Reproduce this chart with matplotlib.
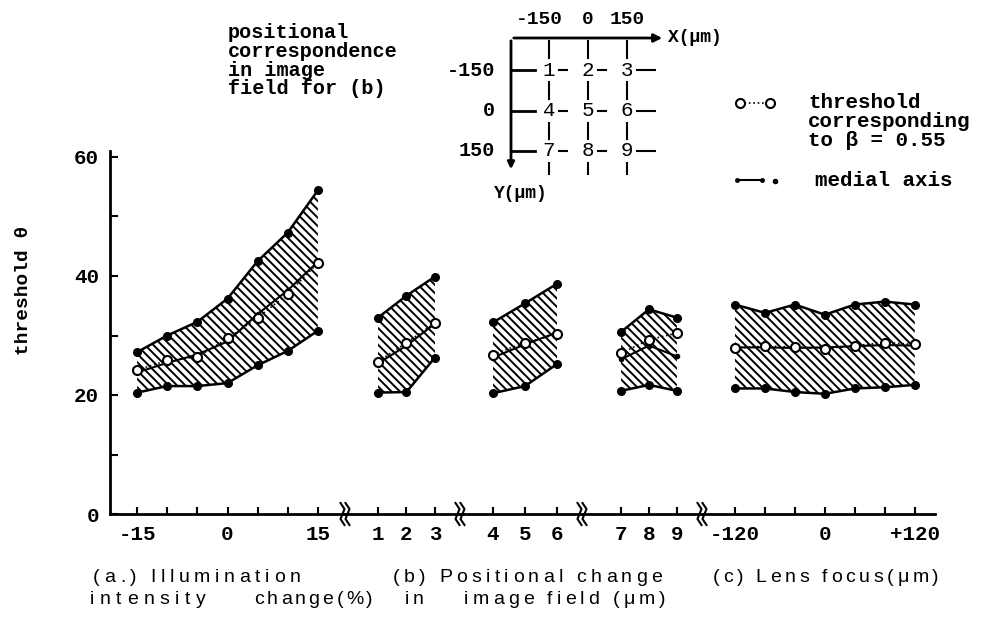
import matplotlib
matplotlib.use("Agg")
import matplotlib.pyplot as plt

plt.rcParams['font.family'] = ['Liberation Mono', 'DejaVu Sans']
plt.rcParams['hatch.linewidth'] = 1.4

# (a) illumination intensity change (%)
illum_x = [-15, -10, -5, 0, 5, 10, 15]
illum_upper = [27.2, 30.0, 32.3, 36.2, 42.5, 47.3, 54.4]
illum_lower = [20.4, 21.5, 21.5, 22.0, 25.0, 27.4, 30.8]
illum_thresh = [24.2, 25.8, 26.4, 29.5, 33.0, 37.0, 42.2]
illum_medial = [23.8, 25.4, 26.8, 29.0, 33.6, 37.6, 42.4]

# (b) positional change in image field, positions 1..9
pos1_x = [1, 2, 3]
pos1_upper = [33.0, 36.7, 39.9]
pos1_lower = [20.4, 20.5, 26.3]
pos1_thresh = [25.6, 28.8, 32.1]
pos1_medial = [25.3, 28.3, 32.0]

pos2_x = [4, 5, 6]
pos2_upper = [32.2, 35.4, 38.7]
pos2_lower = [20.3, 21.5, 25.2]
pos2_thresh = [26.8, 28.8, 30.2]
pos2_medial = [26.3, 28.5, 30.5]

pos3_x = [7, 8, 9]
pos3_upper = [30.6, 34.4, 33.0]
pos3_lower = [20.7, 21.7, 20.7]
pos3_thresh = [27.0, 29.3, 30.4]
pos3_medial = [26.0, 28.3, 26.5]

# (c) lens focus (um)
focus_x = [-120, -80, -40, 0, 40, 80, 120]
focus_upper = [35.2, 33.8, 35.2, 33.5, 35.2, 35.7, 35.2]
focus_lower = [21.1, 21.1, 20.5, 20.2, 21.1, 21.3, 21.7]
focus_thresh = [27.9, 28.2, 28.1, 27.8, 28.3, 28.8, 28.5]
focus_medial = [28.0, 28.0, 27.9, 28.0, 28.2, 28.4, 28.3]

W, H = 986, 630
Y0_PX = 514
PX_PER_UNIT = 5.95
YMAX = 61

fig = plt.figure(figsize=(W / 100, H / 100), dpi=100)


def px_axes(x0, x1):
    bottom = (H - Y0_PX) / H
    height = YMAX * PX_PER_UNIT / H
    return fig.add_axes([x0 / W, bottom, (x1 - x0) / W, height])


panels = [
    (110, 345, (-19.5, 19.5), illum_x, illum_upper, illum_lower, illum_thresh, illum_medial,
     [-15, -10, -5, 0, 5, 10, 15], ['-15', '', '', '0', '', '', '15']),
    (345, 460, (-0.16, 3.88), pos1_x, pos1_upper, pos1_lower, pos1_thresh, pos1_medial,
     [1, 2, 3], ['1', '2', '3']),
    (460, 582, (2.97, 6.78), pos2_x, pos2_upper, pos2_lower, pos2_thresh, pos2_medial,
     [4, 5, 6], ['4', '5', '6']),
    (582, 702, (5.6, 9.9), pos3_x, pos3_upper, pos3_lower, pos3_thresh, pos3_medial,
     [7, 8, 9], ['7', '8', '9']),
    (702, 935, (-164, 147), focus_x, focus_upper, focus_lower, focus_thresh, focus_medial,
     [-120, -80, -40, 0, 40, 80, 120], ['-120', '', '', '0', '', '', '+120']),
]

for i, (x0, x1, xlim, xs, up, lo, th, md, ticks, labels) in enumerate(panels):
    ax = px_axes(x0, x1)
    ax.set_xlim(xlim)
    ax.set_ylim(0, YMAX)
    ax.patch.set_alpha(0)
    ax.spines['top'].set_visible(False)
    ax.spines['right'].set_visible(False)
    ax.spines['bottom'].set_linewidth(2)
    if i == 0:
        ax.spines['left'].set_linewidth(2)
        ax.set_yticks([0, 20, 40, 60])
        ax.set_yticks([10, 30, 50], minor=True)
        ax.tick_params(axis='y', which='both', direction='in', length=6, width=1.5,
                       labelsize=15, pad=8)
        for t in ax.get_yticklabels():
            t.set_fontweight('bold')
    else:
        ax.spines['left'].set_visible(False)
        ax.set_yticks([])

    ax.fill_between(xs, lo, up, facecolor='none', edgecolor='black',
                    hatch='\\\\\\\\', linewidth=0)
    ax.plot(xs, up, color='black', lw=1.8, marker='o', ms=5.5)
    ax.plot(xs, lo, color='black', lw=1.8, marker='o', ms=5.5)
    ax.plot(xs, md, color='black', lw=1.5, marker='o', ms=3)
    ax.plot(xs, th, color='black', lw=1.2, ls=':', marker='o', ms=6.5,
            mfc='white', mec='black', mew=1.5)

    ax.set_xticks(ticks, labels, fontweight='bold')
    ax.tick_params(axis='x', direction='in', length=5, width=1.5, labelsize=15, pad=8)

# overlay in pixel coordinates for annotations
ov = fig.add_axes([0, 0, 1, 1])
ov.set_xlim(0, W)
ov.set_ylim(H, 0)
ov.axis('off')
ov.patch.set_alpha(0)

# break marks on the x axis
for bx in [345, 460, 582, 702]:
    for dx in (-2.5, 2.5):
        ov.plot([bx + dx - 2, bx + dx + 2, bx + dx - 2, bx + dx + 2],
                [503, 509, 519, 525], color='black', lw=1.5)

# y label
ov.text(24, 290, 'threshold θ', rotation=90, ha='center', va='center',
        fontsize=14, fontweight='bold')

# positional correspondence note
for k, line in enumerate(['positional', 'correspondence', 'in image', 'field for (b)']):
    ov.text(228, 33 + 18.5 * k, line, ha='left', va='center', fontsize=14.5,
            fontweight='bold')

# inset: 3x3 position grid
gx0, gy0 = 511, 38
cols = [549, 588, 627]
rows = [70, 111, 151]
ov.annotate('', xy=(665, gy0), xytext=(gx0, gy0),
            arrowprops=dict(arrowstyle='-|>', color='black', lw=2, mutation_scale=12))
ov.annotate('', xy=(gx0, 172), xytext=(gx0, gy0),
            arrowprops=dict(arrowstyle='-|>', color='black', lw=2, mutation_scale=10))
ov.text(668, gy0, 'X(μm)', ha='left', va='center', fontsize=13, fontweight='bold')
ov.text(521, 194, 'Y(μm)', ha='center', va='center', fontsize=13, fontweight='bold')
for cx, lab in zip(cols, ['-150', '0', '150']):
    ov.text(cx - (10 if lab.startswith('-') else 0), 19, lab, ha='center', va='center',
            fontsize=14, fontweight='bold')
for ry, lab in zip(rows, ['-150', '0', '150']):
    ov.text(495, ry, lab, ha='right', va='center', fontsize=14.5, fontweight='bold')
    ov.plot([gx0, gx0 + 24], [ry, ry], color='black', lw=2)
    ov.plot([cols[0] + 10, cols[0] + 18], [ry, ry], color='black', lw=1.5)
    ov.plot([cols[1] + 10, cols[1] + 18], [ry, ry], color='black', lw=1.5)
    ov.plot([cols[2] + 10, cols[2] + 28], [ry, ry], color='black', lw=1.5)
numbers = ['1', '2', '3', '4', '5', '6', '7', '8', '9']
for n, lab in enumerate(numbers):
    ov.text(cols[n % 3], rows[n // 3], lab, ha='center', va='center', fontsize=15)
for cx in cols:
    for ya, yb in [(41, 58), (82, 99), (123, 139), (163, 174)]:
        ov.plot([cx, cx], [ya, yb], color='black', lw=1.5)

# legend
ov.plot([740, 770], [103, 103], color='black', lw=1.2, ls=':', marker='o', ms=6.5,
        mfc='white', mec='black', mew=1.5)
for k, line in enumerate(['threshold', 'corresponding', 'to β = 0.55']):
    ov.text(808, 103 + 18.5 * k, line, ha='left', va='center', fontsize=15,
            fontweight='bold')
ov.plot([737, 762], [180, 180], color='black', lw=1.5, marker='o', ms=2.5)
ov.plot([775], [181], color='black', marker='o', ms=3)
ov.text(815, 180, 'medial axis', ha='left', va='center', fontsize=15, fontweight='bold')

# captions, typed with wide letter spacing
renderer = fig.canvas.get_renderer()
cap = dict(fontsize=14, family=['Liberation Sans Narrow', 'Liberation Sans', 'DejaVu Sans'],
           ha='left', va='center')


def spaced_text(x, y, s, track):
    for ch in s:
        if ch == ' ':
            x += 5 + track
            continue
        t = ov.text(x, y, ch, **cap)
        x += t.get_window_extent(renderer).width + track


spaced_text(93, 577, '(a.) Illumination', 4.6)
spaced_text(393, 577, '(b) Positional change', 4.3)
spaced_text(713, 577, '(c) Lens focus(μm)', 3.7)
spaced_text(90, 599, 'intensity', 5.5)
spaced_text(254, 599, 'change(%)', 3.0)
spaced_text(405, 599, 'in', 3.0)
spaced_text(464, 599, 'image field (μm)', 4.1)

fig.savefig('out.png', dpi=100)
